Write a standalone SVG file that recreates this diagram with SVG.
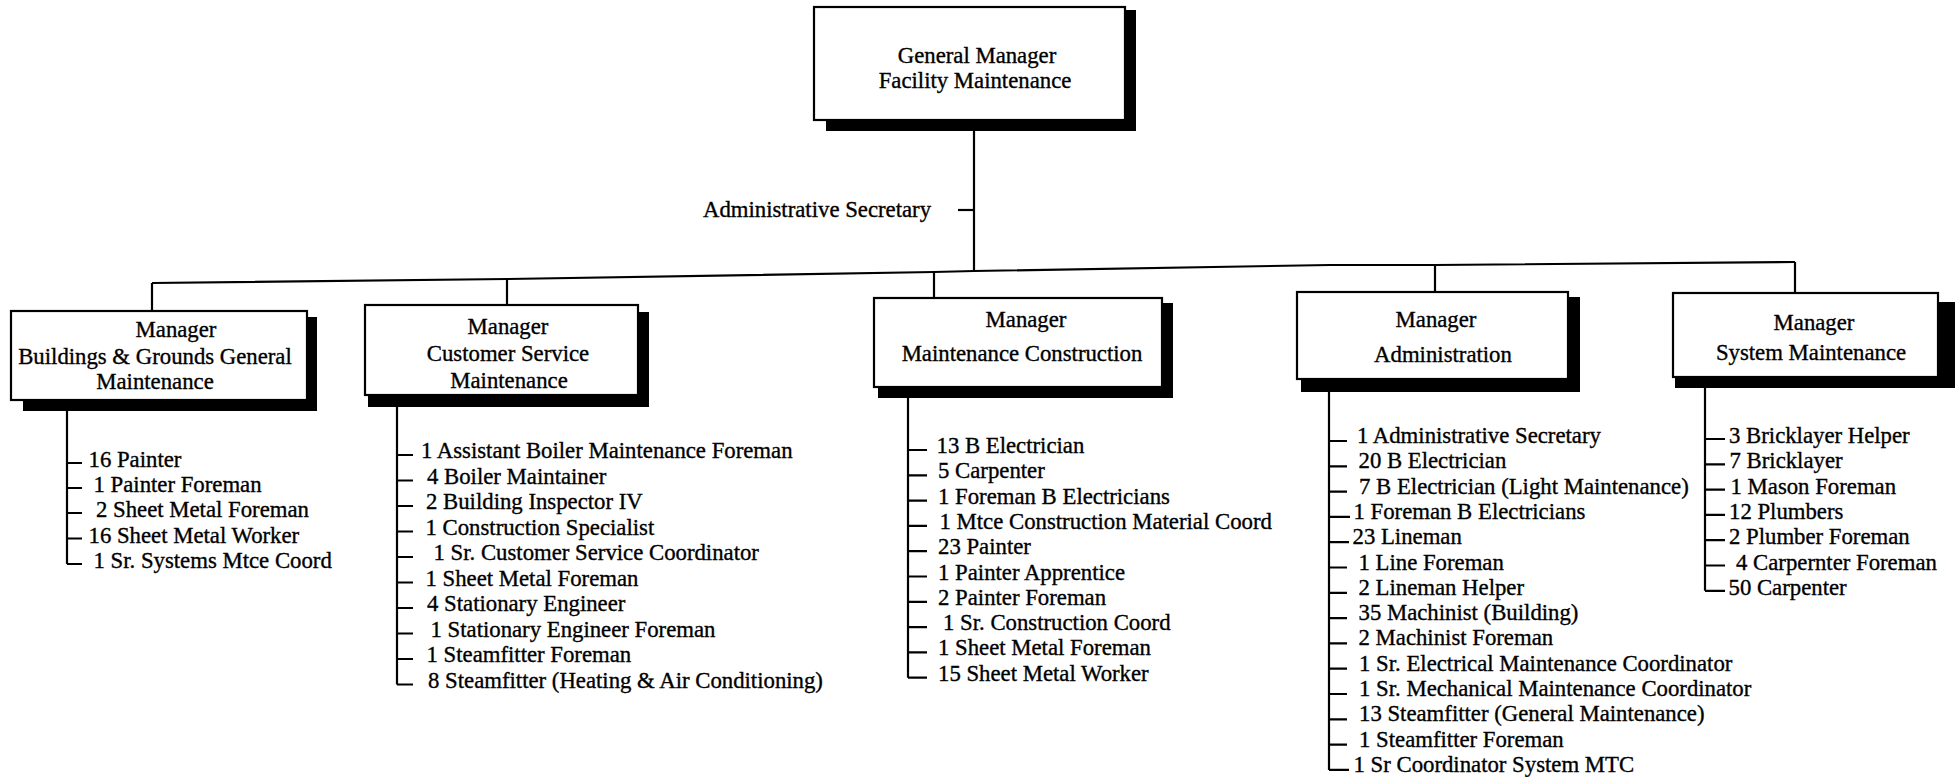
<svg xmlns="http://www.w3.org/2000/svg" width="1960" height="777" viewBox="0 0 1960 777">
<style>
  .bg{fill:#fff}
  .box{fill:#fff;stroke:#000;stroke-width:2.2}
  .sh{fill:#000}
  .ln{fill:none;stroke:#000;stroke-width:2.2}
  text{font-family:"Liberation Serif","Times New Roman",serif;font-size:22.75px;fill:#000;stroke:#000;stroke-width:0.35}
  .c{text-anchor:middle}
</style>
<rect class="bg" x="0" y="0" width="1960" height="777"/>

<g id="connectors">
  <path class="ln" d="M974,120 V271"/>
  <path class="ln" d="M958,210 H974"/>
  <polyline class="ln" points="152,283 507,279 934,272 974,271 1330,265 1435,265 1795,262"/>
  <path class="ln" d="M152,283 V311 M507,279 V305 M934,272 V298 M1435,265 V292 M1795,262 V293"/>
  <!-- list 1 -->
  <path class="ln" d="M67,411 V564 M67,463 H82 M67,488 H82 M67,513 H82 M67,538.5 H82 M67,564 H82"/>
  <!-- list 2 -->
  <path class="ln" d="M397,407 V684.5 M397,455 H413 M397,480.5 H413 M397,506 H413 M397,531.5 H413 M397,557 H413 M397,582.5 H413 M397,608 H413 M397,633.5 H413 M397,659 H413 M397,684.5 H413"/>
  <!-- list 3 -->
  <path class="ln" d="M908,398 V677.7 M908,450 H927 M908,475.3 H927 M908,500.6 H927 M908,525.9 H927 M908,551.2 H927 M908,576.5 H927 M908,601.8 H927 M908,627.1 H927 M908,652.4 H927 M908,677.7 H927"/>
  <!-- list 4 -->
  <path class="ln" d="M1329,392 V769.9 M1329,441 H1347 M1329,466.3 H1347 M1329,491.6 H1347 M1329,516.9 H1350 M1329,542.2 H1349 M1329,567.5 H1347 M1329,592.8 H1347 M1329,618.1 H1347 M1329,643.4 H1347 M1329,668.7 H1347 M1329,694 H1347 M1329,719.3 H1347 M1329,744.6 H1347 M1329,769.9 H1349"/>
  <!-- list 5 -->
  <path class="ln" d="M1705,388 V590.8 M1705,439 H1725 M1705,464.3 H1725 M1705,489.6 H1725 M1705,514.9 H1725 M1705,540.2 H1725 M1705,565.5 H1725 M1705,590.8 H1725"/>
</g>

<g id="gm">
  <rect class="sh" x="826" y="10" width="310" height="121"/>
  <rect class="box" x="814" y="7" width="311" height="113"/>
  <text class="c" x="977" y="63">General Manager</text>
  <text class="c" x="975" y="87.5">Facility Maintenance</text>
</g>

<g id="admin-secretary">
  <text x="703" y="217">Administrative Secretary</text>
</g>

<g id="mgr-buildings">
  <rect class="sh" x="23" y="317" width="294" height="94"/>
  <rect class="box" x="11" y="311" width="296" height="89"/>
  <text class="c" x="176" y="337">Manager</text>
  <text class="c" x="155" y="364">Buildings &amp; Grounds General</text>
  <text class="c" x="155" y="388.5">Maintenance</text>
</g>
<g id="list-buildings">
  <text x="88.5" y="467">16 Painter</text>
  <text x="93.5" y="492">1 Painter Foreman</text>
  <text x="96" y="517">2 Sheet Metal Foreman</text>
  <text x="88.5" y="542.5">16 Sheet Metal Worker</text>
  <text x="93.5" y="568">1 Sr. Systems Mtce Coord</text>
</g>

<g id="mgr-customer">
  <rect class="sh" x="368" y="312" width="281" height="95"/>
  <rect class="box" x="365" y="305" width="273" height="90"/>
  <text class="c" x="508" y="333.5">Manager</text>
  <text class="c" x="508" y="361">Customer Service</text>
  <text class="c" x="509" y="387.5">Maintenance</text>
</g>
<g id="list-customer">
  <text x="421" y="458">1 Assistant Boiler Maintenance Foreman</text>
  <text x="427" y="483.5">4 Boiler Maintainer</text>
  <text x="426" y="509">2 Building Inspector IV</text>
  <text x="425.5" y="534.5">1 Construction Specialist</text>
  <text x="433.5" y="560">1 Sr. Customer Service Coordinator</text>
  <text x="425.5" y="585.5">1 Sheet Metal Foreman</text>
  <text x="427" y="611">4 Stationary Engineer</text>
  <text x="430.5" y="636.5">1 Stationary Engineer Foreman</text>
  <text x="426.5" y="662">1 Steamfitter Foreman</text>
  <text x="428" y="687.5">8 Steamfitter (Heating &amp; Air Conditioning)</text>
</g>

<g id="mgr-construction">
  <rect class="sh" x="878" y="303" width="295" height="95"/>
  <rect class="box" x="874" y="298" width="288" height="89"/>
  <text class="c" x="1026" y="327">Manager</text>
  <text class="c" x="1022" y="360.5">Maintenance Construction</text>
</g>
<g id="list-construction">
  <text x="936.5" y="453">13 B Electrician</text>
  <text x="938" y="478.3">5 Carpenter</text>
  <text x="938" y="503.6">1 Foreman B Electricians</text>
  <text x="939.5" y="528.9">1 Mtce Construction Material Coord</text>
  <text x="938" y="554.2">23 Painter</text>
  <text x="938" y="579.5">1 Painter Apprentice</text>
  <text x="938" y="604.8">2 Painter Foreman</text>
  <text x="943" y="630.1">1 Sr. Construction Coord</text>
  <text x="938" y="655.4">1 Sheet Metal Foreman</text>
  <text x="938" y="680.7">15 Sheet Metal Worker</text>
</g>

<g id="mgr-administration">
  <rect class="sh" x="1301" y="297" width="279" height="95"/>
  <rect class="box" x="1297" y="292" width="271" height="87"/>
  <text class="c" x="1436" y="327">Manager</text>
  <text class="c" x="1443" y="362">Administration</text>
</g>
<g id="list-administration">
  <text x="1357" y="443">1 Administrative Secretary</text>
  <text x="1358.5" y="468.3">20 B Electrician</text>
  <text x="1359" y="493.6">7 B Electrician (Light Maintenance)</text>
  <text x="1353.5" y="518.9">1 Foreman B Electricians</text>
  <text x="1352.5" y="544.2">23 Lineman</text>
  <text x="1358.5" y="569.5">1 Line Foreman</text>
  <text x="1358.5" y="594.8">2 Lineman Helper</text>
  <text x="1358.5" y="620.1">35 Machinist (Building)</text>
  <text x="1358.5" y="645.4">2 Machinist Foreman</text>
  <text x="1359" y="670.7">1 Sr. Electrical Maintenance Coordinator</text>
  <text x="1359" y="696">1 Sr. Mechanical Maintenance Coordinator</text>
  <text x="1359" y="721.3">13 Steamfitter (General Maintenance)</text>
  <text x="1359" y="746.6">1 Steamfitter Foreman</text>
  <text x="1353.5" y="771.9">1 Sr Coordinator System MTC</text>
</g>

<g id="mgr-system">
  <rect class="sh" x="1675" y="302" width="280" height="86"/>
  <rect class="box" x="1673" y="293" width="265" height="84"/>
  <text class="c" x="1814" y="329.5">Manager</text>
  <text class="c" x="1811" y="360">System Maintenance</text>
</g>
<g id="list-system">
  <text x="1729" y="443">3 Bricklayer Helper</text>
  <text x="1729.5" y="468.3">7 Bricklayer</text>
  <text x="1730.5" y="493.6">1 Mason Foreman</text>
  <text x="1729" y="518.9">12 Plumbers</text>
  <text x="1729" y="544.2">2 Plumber Foreman</text>
  <text x="1736" y="569.5">4 Carpernter Foreman</text>
  <text x="1728.5" y="594.8">50 Carpenter</text>
</g>
</svg>
